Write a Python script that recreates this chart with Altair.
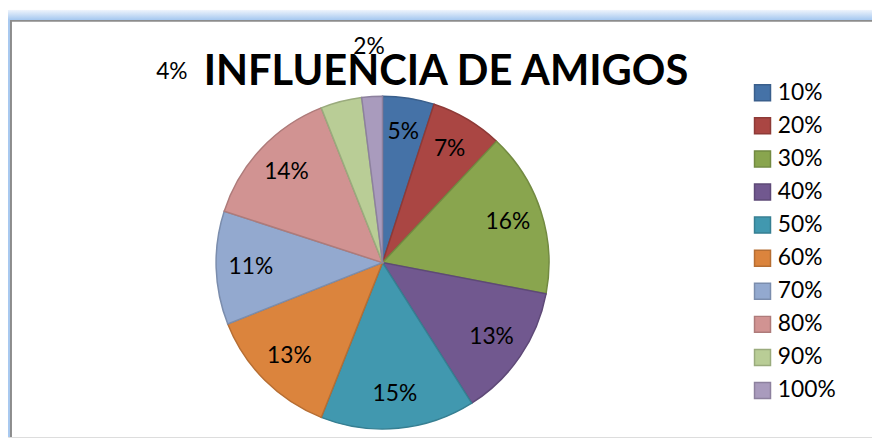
import math
import altair as alt
import pandas as pd

# ---- data ----
categories = ["10%", "20%", "30%", "40%", "50%", "60%", "70%", "80%", "90%", "100%"]
shares = [5, 7, 16, 13, 15, 13, 11, 14, 4, 2]
labels = ["5%", "7%", "16%", "13%", "15%", "13%", "11%", "14%", "4%", "2%"]
fills = ["#4572A7", "#AA4643", "#89A54E", "#71588F", "#4198AF",
         "#DB843D", "#93A9CF", "#D19392", "#B9CD96", "#A99BBD"]
strokes = ["#3A5F8C", "#8E3A37", "#728A41", "#5E4977", "#367F92",
           "#B66E33", "#7B8DAD", "#AE7B7A", "#9AAB7D", "#8D819E"]
title_text = "INFLUENCIA DE AMIGOS"

# ---- layout ----
W, H = 872, 431
CX, CY, R = 378, 255, 168
LABEL_R = 133
# label radius / angle shift (degrees) for slices labelled outside the pie
outside = {"90%": (287, -33.4), "100%": (218, 0.0)}
FONT = "Lato"

df = pd.DataFrame({"cat": categories, "value": shares, "label": labels,
                   "order": list(range(len(categories)))})

total = sum(shares)
cum = 0
lx, ly = [], []
for c, v in zip(categories, shares):
    mid = (cum + v / 2) / total * 2 * math.pi
    cum += v
    r, shift = outside.get(c, (LABEL_R, 0.0))
    a = mid + math.radians(shift)
    lx.append(CX + r * math.sin(a))
    ly.append(CY - r * math.cos(a))
df["lx"] = lx
df["ly"] = ly


def make_legend():
    return alt.Legend(title=None, orient="none", legendX=750, legendY=72,
                      symbolType="square", symbolSize=260, symbolStrokeWidth=1.5,
                      labelFont=FONT, labelFontSize=23, labelColor="#000000",
                      rowPadding=9.4, labelOffset=4, padding=0)


color = alt.Color("cat:N", sort=categories,
                  scale=alt.Scale(domain=categories, range=fills),
                  legend=make_legend())
stroke = alt.Stroke("cat:N", sort=categories,
                    scale=alt.Scale(domain=categories, range=strokes),
                    legend=make_legend())

pie = alt.Chart(df).mark_arc(radius=R, strokeWidth=1.5).encode(
    theta=alt.Theta("value:Q", stack=True),
    order=alt.Order("order:Q"),
    color=color,
    stroke=stroke,
    x=alt.value(CX),
    y=alt.value(CY),
)

text = alt.Chart(df).mark_text(font=FONT, fontSize=23, color="#000000",
                               align="center", baseline="middle").encode(
    x=alt.X("lx:Q", scale=None),
    y=alt.Y("ly:Q", scale=None),
    text="label:N",
)

frame_df = pd.DataFrame({"t": [title_text]})
grad = {"gradient": "linear", "x1": 0, "y1": 0, "x2": 0, "y2": 1,
        "stops": [{"offset": 0, "color": "#EEF4FC"}, {"offset": 1, "color": "#A6C8F0"}]}
top_band = alt.Chart(frame_df).mark_rect(fill=grad).encode(
    x=alt.value(0), x2=alt.value(W), y=alt.value(0), y2=alt.value(10))
top_line = alt.Chart(frame_df).mark_rect(color="#8C8C8C").encode(
    x=alt.value(2), x2=alt.value(W), y=alt.value(10), y2=alt.value(12))
left_band = alt.Chart(frame_df).mark_rect(color="#A9C9F0").encode(
    x=alt.value(0), x2=alt.value(2), y=alt.value(10), y2=alt.value(H))
left_line = alt.Chart(frame_df).mark_rect(color="#8C8C8C").encode(
    x=alt.value(2), x2=alt.value(4), y=alt.value(10), y2=alt.value(H))

title = alt.Chart(frame_df).mark_text(font=FONT, fontSize=42, fontWeight="bold",
                                      color="#000000", align="center",
                                      baseline="alphabetic").encode(
    x=alt.value(442), y=alt.value(76), text="t:N")

chart = alt.layer(top_band, top_line, left_band, left_line, pie, text, title).properties(
    width=W, height=H, padding=0,
    autosize=alt.AutoSizeParams(type="none"),
).configure_view(stroke=None).configure(background="#FFFFFF")

chart.save("out.html", embed_options={"renderer": "svg", "actions": False})
